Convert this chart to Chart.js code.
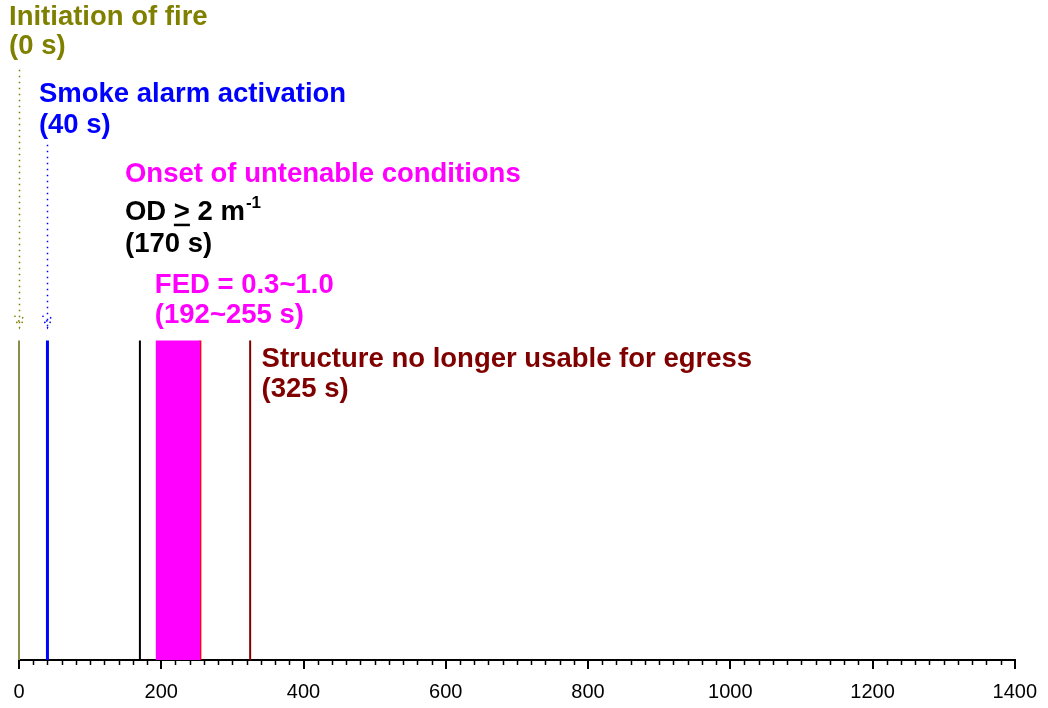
<!DOCTYPE html>
<html>
<head>
<meta charset="utf-8">
<script src="https://cdn.jsdelivr.net/npm/chart.js@4.4.1/dist/chart.umd.min.js"></script>
<style>
  html, body { margin: 0; padding: 0; background: #fff; }
  #wrap { width: 1048px; height: 708px; }
</style>
</head>
<body>
<div id="wrap"><canvas id="timeline"></canvas></div>
<script>
// event times (s)
const eventTimes = [0, 40, 170, 255, 325];
const eventColors = ['#8c8c4a', '#0000ff', '#000000', '#ff0000', '#800000'];
const fedRange = [192, 255];
const xTicks = [0, 200, 400, 600, 800, 1000, 1200, 1400];

// annotation text, x in seconds, y in chart units (event bars reach 1)
const notes = [
    { lines: ['Initiation of fire', '(0 s)'], color: '#808000', x: -14, y: [1.987, 1.897] },
    { lines: ['Smoke alarm activation', '(40 s)'], color: '#0000ff', x: 28, y: [1.747, 1.650] },
    { lines: ['Onset of untenable conditions'], color: '#ff00ff', x: 149, y: [1.497] },
    { lines: ['OD_GE', '(170 s)'], color: '#000000', x: 149, y: [1.378, 1.278] },
    { lines: ['FED = 0.3~1.0', '(192~255 s)'], color: '#ff00ff', x: 191, y: [1.150, 1.056] },
    { lines: ['Structure no longer usable for egress', '(325 s)'], color: '#800000', x: 341, y: [0.916, 0.822] }
];
// dotted arrows: time, top, bottom
const arrows = [
    { t: 0, from: 1.847, to: 1.04, color: '#808000' },
    { t: 40, from: 1.6125, to: 1.04, color: '#0000ff' }
];

const font = 'bold 27.5px "Liberation Sans", Arial, sans-serif';

const datasets = [];
// FED band
datasets.push({
    data: [{ x: fedRange[0], y: 1 }, { x: fedRange[1], y: 1 }],
    borderWidth: 0,
    pointRadius: 0,
    fill: 'origin',
    backgroundColor: '#ff00ff',
    borderColor: '#ff00ff'
});
eventTimes.forEach((t, i) => {
    datasets.push({
        data: [{ x: t, y: 0 }, { x: t, y: 1 }],
        borderColor: eventColors[i],
        borderWidth: i == 1 ? 3 : 2,
        pointRadius: 0,
        fill: false,
        clip: false
    });
});

const annotate = {
    id: 'annotate',
    afterDraw(chart) {
        const c = chart.ctx;
        const xs = chart.scales.x, ys = chart.scales.y;
        c.save();

        // minor ticks every 20 s
        const axisY = chart.chartArea.bottom;
        c.strokeStyle = '#000';
        c.lineWidth = 1.5;
        for (let v = 0; v <= 1400; v += 20) {
            if (v % 200 === 0) continue;
            const px = Math.round(xs.getPixelForValue(v)) + 0.5;
            c.beginPath();
            c.moveTo(px, axisY);
            c.lineTo(px, axisY + 5);
            c.stroke();
        }

        // dotted arrows
        arrows.forEach(a => {
            const px = Math.round(xs.getPixelForValue(a.t)) + 0.5;
            const y0 = ys.getPixelForValue(a.from), y1 = ys.getPixelForValue(a.to);
            c.strokeStyle = a.color;
            c.lineWidth = 1.5;
            c.setLineDash([1.5, 4.5]);
            c.beginPath();
            c.moveTo(px, y0);
            c.lineTo(px, y1);
            c.moveTo(px - 5, y1 - 12);
            c.lineTo(px, y1 - 6);
            c.lineTo(px + 5, y1 - 12);
            c.moveTo(px - 3, y1 - 6);
            c.lineTo(px, y1);
            c.lineTo(px + 3, y1 - 6);
            c.stroke();
        });
        c.setLineDash([]);

        // text
        c.font = font;
        c.textBaseline = 'alphabetic';
        c.textAlign = 'left';
        notes.forEach(n => {
            const px = xs.getPixelForValue(n.x);
            c.fillStyle = n.color;
            n.lines.forEach((s, k) => {
                const py = ys.getPixelForValue(n.y[k]);
                if (s === 'OD_GE') {
                    let x = px;
                    c.fillText('OD ', x, py);
                    x += c.measureText('OD ').width;
                    const gw = c.measureText('>').width;
                    c.fillText('>', x, py);
                    c.fillRect(x, py + 4, gw, 2.5);
                    x += gw;
                    c.fillText(' 2 m', x, py);
                    x += c.measureText(' 2 m').width;
                    c.font = 'bold 17px "Liberation Sans", Arial, sans-serif';
                    c.fillText('-1', x + 1, py - 12);
                    c.font = font;
                } else {
                    c.fillText(s, px, py);
                }
            });
        });
        c.restore();
    }
};

new Chart(document.getElementById('timeline'), {
    type: 'scatter',
    data: { datasets: datasets },
    options: {
        responsive: true,
        maintainAspectRatio: false,
        animation: false,
        showLine: true,
        layout: { padding: { left: 19, right: 32, top: 0, bottom: -7 } },
        plugins: { legend: { display: false }, tooltip: { enabled: false } },
        scales: {
            x: {
                type: 'linear',
                min: 0,
                max: 1400,
                afterBuildTicks: (axis) => { axis.ticks = xTicks.map(v => ({ value: v })); },
                ticks: {
                    color: '#000',
                    font: { family: '"Liberation Sans", Arial, sans-serif', size: 20 },
                    padding: 11,
                    maxRotation: 0,
                    autoSkip: false,
                    callback: (v) => String(v)
                },
                grid: { drawOnChartArea: false, color: '#000', lineWidth: 2, tickLength: 9 },
                border: { color: '#000', width: 2 }
            },
            y: { display: false, min: 0, max: 2.0656 }
        }
    },
    plugins: [annotate]
});
</script>
</body>
</html>
